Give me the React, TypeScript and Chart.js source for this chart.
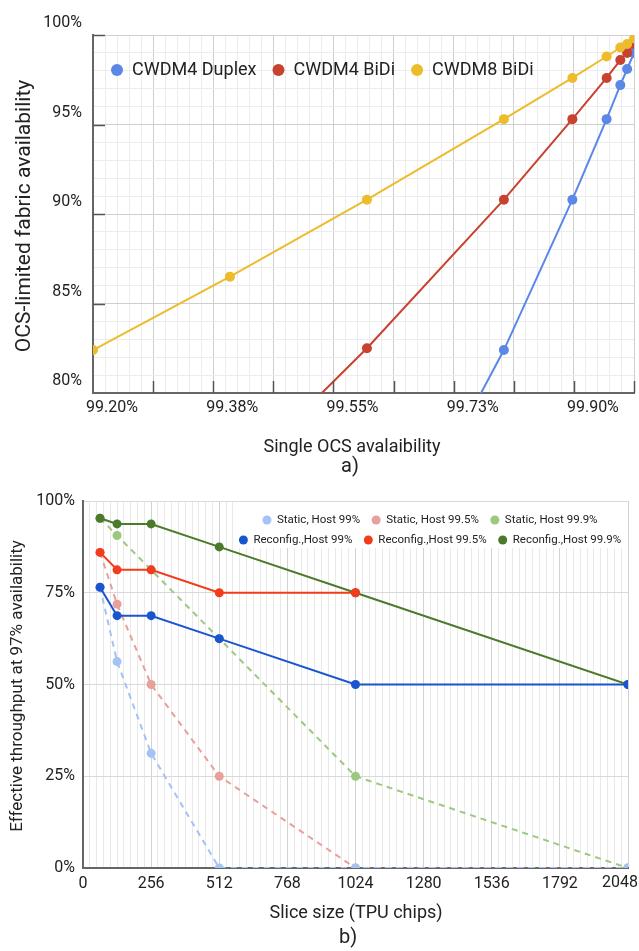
import React, { useEffect, useRef } from 'react';
import { Chart, registerables } from 'chart.js';

Chart.register(...registerables);

// ---------- Chart a) data ----------
const singleOcsAvailability = [99.2, 99.4, 99.6, 99.8, 99.9, 99.95, 99.97, 99.98, 99.99];
const cwdm4Duplex = [null, null, 68.0, 82.4, 90.8, 95.3, 97.2, 98.1, 99.0];
const cwdm4BiDi = [null, 74.9, 82.5, 90.8, 95.3, 97.6, 98.6, 99.0, 99.5];
const cwdm8BiDi = [82.4, 86.5, 90.8, 95.3, 97.6, 98.8, 99.3, 99.5, 99.8];
const topSeriesNames = ['CWDM4 Duplex', 'CWDM4 BiDi', 'CWDM8 BiDi'];
const topSeriesColors = ['#5b87e6', '#c9412f', '#ecbc2b'];
const topXMin = 99.2;
const topXMax = 99.99;
const topYMin = 80;
const topYMax = 100;

// ---------- Chart b) data ----------
const sliceSizes = [64, 128, 256, 512, 1024, 2048];
const static99 = [76.5, 56.25, 31.25, 0, 0, 0];
const static995 = [86, 71.9, 50, 25, 0, 0];
const static999 = [95.3, 90.6, 81.25, 62.5, 25, 0];
const reconfig99 = [76.5, 68.75, 68.75, 62.5, 50, 50];
const reconfig995 = [86, 81.25, 81.25, 75, 75, null];
const reconfig999 = [95.3, 93.75, 93.75, 87.5, 75, 50];
const bottomSeriesNames = [
  'Static, Host 99%',
  'Static, Host 99.5%',
  'Static, Host 99.9%',
  'Reconfig.,Host 99%',
  'Reconfig.,Host 99.5%',
  'Reconfig.,Host 99.9%',
];
const bottomSeriesColors = ['#a4c2f4', '#e8a09a', '#9cc97f', '#1a55d0', '#f23c1c', '#4a7a2a'];
const bottomXTicks = [0, 256, 512, 768, 1024, 1280, 1536, 1792, 2048];

const FONT = 'Roboto, "Liberation Sans", Arial, sans-serif';
const TEXT = '#222222';

function toPoints(xs: number[], ys: (number | null)[]) {
  return xs.map((x, i) => ({ x, y: ys[i] }));
}

const topDecor = {
  id: 'topDecor',
  afterDraw(chart: any) {
    const { ctx, chartArea: a, scales } = chart;
    const xs = scales.x;
    const ys = scales.y;
    ctx.save();
    // inside tick marks
    ctx.strokeStyle = '#555';
    ctx.lineWidth = 1.5;
    xs.ticks.forEach((t: any, i: number) => {
      if (i % 5 === 0 && i > 0) {
        const px = Math.round(xs.getPixelForValue(t.value)) + 0.5;
        ctx.beginPath();
        ctx.moveTo(px, a.bottom);
        ctx.lineTo(px, a.bottom - 12);
        ctx.stroke();
      }
    });
    ys.ticks.forEach((t: any, i: number) => {
      if (i % 5 === 0 && i > 0) {
        const py = Math.round(ys.getPixelForValue(t.value)) + 0.5;
        ctx.beginPath();
        ctx.moveTo(a.left, py);
        ctx.lineTo(a.left + 12, py);
        ctx.stroke();
      }
    });
    // legend inside plot
    ctx.font = `18px ${FONT}`;
    ctx.textBaseline = 'middle';
    ctx.textAlign = 'left';
    let x = a.left + 24;
    const y = a.top + 35;
    topSeriesNames.forEach((name, i) => {
      ctx.fillStyle = topSeriesColors[i];
      ctx.beginPath();
      ctx.arc(x, y, 6, 0, Math.PI * 2);
      ctx.fill();
      ctx.fillStyle = TEXT;
      ctx.fillText(name, x + 15, y);
      x += 15 + ctx.measureText(name).width + 22;
    });
    // titles
    ctx.fillStyle = TEXT;
    ctx.textAlign = 'center';
    ctx.font = `21px ${FONT}`;
    ctx.save();
    ctx.translate(25, 216);
    ctx.rotate(-Math.PI / 2);
    ctx.fillText('OCS-limited fabric availability', 0, 0);
    ctx.restore();
    ctx.font = `18px ${FONT}`;
    ctx.fillText('Single OCS avalaibility', 352, 447);
    ctx.font = `20px ${FONT}`;
    ctx.fillText('a)', 350, 467);
    ctx.restore();
  },
};

const bottomDecor = {
  id: 'bottomDecor',
  afterDraw(chart: any) {
    const { ctx, chartArea: a, scales } = chart;
    ctx.save();
    // last x tick label, kept inside the canvas
    const xs = scales.x;
    ctx.fillStyle = TEXT;
    ctx.font = `16px ${FONT}`;
    ctx.textAlign = 'right';
    ctx.textBaseline = 'middle';
    const last = bottomXTicks[bottomXTicks.length - 1];
    ctx.fillText(String(last), Math.min(xs.getPixelForValue(last) + 20, chart.width - 1), a.bottom + 15);
    // legend box background
    ctx.fillStyle = '#ffffff';
    ctx.fillRect(233, a.top + 1, a.right - 1 - 233, 69 - a.top);
    ctx.font = `11.5px ${FONT}`;
    ctx.textBaseline = 'middle';
    ctx.textAlign = 'left';
    const rows = [
      [0, 1, 2],
      [3, 4, 5],
    ];
    const rowY = [42, 62];
    const centerX = 430;
    rows.forEach((row, r) => {
      const widths = row.map((k) => 10 + ctx.measureText(bottomSeriesNames[k]).width);
      const gap = 16;
      const total = widths.reduce((s, w) => s + w, 0) + gap * (row.length - 1) + 4.5;
      let x = centerX - total / 2 + 4.5;
      row.forEach((k, j) => {
        ctx.fillStyle = bottomSeriesColors[k];
        ctx.beginPath();
        ctx.arc(x, rowY[r], 4.5, 0, Math.PI * 2);
        ctx.fill();
        ctx.fillStyle = TEXT;
        ctx.fillText(bottomSeriesNames[k], x + 10, rowY[r]);
        x += widths[j] + gap;
      });
    });
    // titles
    ctx.fillStyle = TEXT;
    ctx.textAlign = 'center';
    ctx.font = `17px ${FONT}`;
    ctx.save();
    ctx.translate(18, 208);
    ctx.rotate(-Math.PI / 2);
    ctx.fillText('Effective throughput at 97% availability', 0, 0);
    ctx.restore();
    ctx.font = `18px ${FONT}`;
    ctx.fillText('Slice size (TPU chips)', 356, 435);
    ctx.font = `20px ${FONT}`;
    ctx.fillText('b)', 348, 460);
    ctx.restore();
  },
};

export default function App() {
  const topRef = useRef<HTMLCanvasElement>(null);
  const bottomRef = useRef<HTMLCanvasElement>(null);

  useEffect(() => {
    const topSeries = [cwdm4Duplex, cwdm4BiDi, cwdm8BiDi];
    const topChart = new Chart(topRef.current as HTMLCanvasElement, {
      type: 'line',
      data: {
        datasets: topSeries.map((s, i) => ({
          label: topSeriesNames[i],
          data: toPoints(singleOcsAvailability, s),
          borderColor: topSeriesColors[i],
          backgroundColor: topSeriesColors[i],
          pointBackgroundColor: topSeriesColors[i],
          pointBorderWidth: 0,
          pointRadius: 5,
          borderWidth: 2,
          tension: 0,
          order: 2 - i,
        })),
      },
      options: {
        responsive: false,
        animation: false,
        events: [],
        layout: { padding: { left: 0, top: 35, right: 2, bottom: 45 } },
        plugins: { legend: { display: false }, tooltip: { enabled: false } },
        scales: {
          x: {
            type: 'linear',
            min: topXMin,
            max: topXMax,
            afterBuildTicks: (scale: any) => {
              const n = 45;
              const ticks = [];
              for (let i = 0; i <= n; i++) ticks.push({ value: topXMin + ((topXMax - topXMin) * i) / n });
              scale.ticks = ticks;
            },
            afterFit: (scale: any) => {
              scale.height = 40;
              scale.paddingLeft = 0;
              scale.paddingRight = 0;
            },
            ticks: {
              autoSkip: false,
              maxRotation: 0,
              padding: 5,
              labelOffset: 19,
              color: TEXT,
              font: { family: FONT, size: 16 },
              callback: (v: any, i: number) => (i % 10 === 0 ? Number(v).toFixed(2) + '%' : ''),
            },
            grid: {
              drawTicks: false,
              color: (c: any) => (c.index % 5 === 0 ? '#cfcfcf' : '#ececec'),
            },
            border: { color: '#666', width: 2 },
          },
          y: {
            type: 'linear',
            min: topYMin,
            max: topYMax,
            afterBuildTicks: (scale: any) => {
              const ticks = [];
              for (let v = topYMin; v <= topYMax; v++) ticks.push({ value: v });
              scale.ticks = ticks;
            },
            afterFit: (scale: any) => {
              scale.width = 93;
              scale.paddingTop = 0;
              scale.paddingBottom = 0;
            },
            ticks: {
              autoSkip: false,
              padding: 11,
              labelOffset: -12,
              color: TEXT,
              font: { family: FONT, size: 16 },
              callback: (v: any, i: number) => (i % 5 === 0 ? v + '%' : ''),
            },
            grid: {
              drawTicks: false,
              color: (c: any) => (c.index % 5 === 0 ? '#cfcfcf' : '#ececec'),
            },
            border: { color: '#666', width: 2 },
          },
        },
      },
      plugins: [topDecor],
    } as any);

    const bottomSeries = [static99, static995, static999, reconfig99, reconfig995, reconfig999];
    const bottomChart = new Chart(bottomRef.current as HTMLCanvasElement, {
      type: 'line',
      data: {
        datasets: bottomSeries.map((s, i) => ({
          label: bottomSeriesNames[i],
          data: toPoints(sliceSizes, s),
          borderColor: bottomSeriesColors[i],
          backgroundColor: bottomSeriesColors[i],
          pointBackgroundColor: bottomSeriesColors[i],
          pointBorderWidth: 0,
          pointRadius: 4.5,
          borderWidth: 2,
          borderDash: i < 3 ? [6, 5] : [],
          tension: 0,
          order: i < 3 ? 2 : 1,
        })),
      },
      options: {
        responsive: false,
        animation: false,
        events: [],
        layout: { padding: { left: 0, top: 23, right: 11, bottom: 53 } },
        plugins: { legend: { display: false }, tooltip: { enabled: false } },
        scales: {
          x: {
            type: 'linear',
            min: bottomXTicks[0],
            max: bottomXTicks[bottomXTicks.length - 1],
            afterBuildTicks: (scale: any) => {
              const ticks = [];
              const sub = 10;
              for (let j = 0; j < bottomXTicks.length - 1; j++) {
                const a = bottomXTicks[j];
                const b = bottomXTicks[j + 1];
                for (let k = 0; k < sub; k++) ticks.push({ value: a + ((b - a) * k) / sub });
              }
              ticks.push({ value: bottomXTicks[bottomXTicks.length - 1] });
              scale.ticks = ticks;
            },
            afterFit: (scale: any) => {
              scale.height = 30;
              scale.paddingLeft = 0;
              scale.paddingRight = 0;
            },
            ticks: {
              autoSkip: false,
              maxRotation: 0,
              padding: 6,
              color: TEXT,
              font: { family: FONT, size: 16 },
              callback: (v: any, i: number, arr: any[]) =>
                i % 10 === 0 && i !== arr.length - 1 ? String(Math.round(Number(v))) : '',
            },
            grid: {
              drawTicks: false,
              color: (c: any) => (c.index % 10 === 0 ? '#d2d2d2' : '#e9e9e9'),
            },
            border: { color: '#666', width: 2 },
          },
          y: {
            type: 'linear',
            min: 0,
            max: 100,
            ticks: {
              stepSize: 25,
              padding: 8,
              color: TEXT,
              font: { family: FONT, size: 16 },
              callback: (v: any) => v + '%',
            },
            afterFit: (scale: any) => {
              scale.width = 83;
              scale.paddingTop = 0;
              scale.paddingBottom = 0;
            },
            grid: { drawTicks: false, color: '#d9d9d9' },
            border: { color: '#666', width: 2 },
          },
        },
      },
      plugins: [bottomDecor],
    } as any);

    return () => {
      topChart.destroy();
      bottomChart.destroy();
    };
  }, []);

  return (
    <div style={{ position: 'fixed', left: 0, top: 0, width: 639, height: 951, background: '#fff' }}>
      <canvas ref={topRef} width={639} height={478} style={{ position: 'absolute', left: 0, top: 0, display: 'block' }} />
      <canvas ref={bottomRef} width={639} height={473} style={{ position: 'absolute', left: 0, top: 478, display: 'block' }} />
    </div>
  );
}
